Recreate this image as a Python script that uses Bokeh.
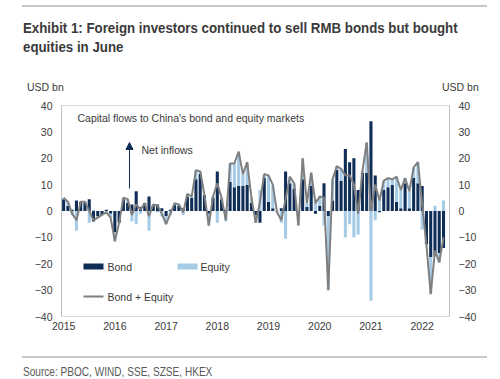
from bokeh.plotting import figure
from bokeh.layouts import column
from bokeh.models import Label, BoxAnnotation, LinearAxis, Range1d, FixedTicker, Arrow, NormalHead, Div
from bokeh.embed import file_html
from bokeh.resources import INLINE

# ---- data (USD bn, monthly Jan 2015 - Jun 2022) ----
years = ["2015", "2016", "2017", "2018", "2019", "2020", "2021", "2022"]
year_ticks = [0, 12, 24, 36, 48, 60, 72, 84]

bond = [
    4.5, 2, 0.5, 4, 3.5, 3, 4.5, -4, -2, -1.5, 0.5, -1,          # 2015
    -8, -4.5, 4.5, 3, 2.5, 7.5, 1.5, 3, 5.5, 2, 2.5, 1,          # 2016
    -2, 0.5, 2.5, 2, 1, 5.5, 5, 12, 14, 6, -1, 5,                # 2017
    15, 4.5, 0.5, 11, 9, 9.5, 9.5, 10, 3, -1.5, -4.5, 12.5,      # 2018
    3.5, 1, 0, 1, 15, 10.5, 8.5, 0, 12, 1.5, 9.5, -1,            # 2019
    2, 10.5, -2, 4, 15.5, 11.5, 23.5, 18.5, 20, 8, 14.5, 14.5,   # 2020
    34, 13.5, -0.5, 8, 9, 10, 3.5, 1, 10.5, 1, 12.5, 10.5,       # 2021
    9.5, -12.5, -17.5, -17, -16, -14,                            # 2022
]
equity = [
    0.5, 1.5, -1.5, -7.5, 0, 0.5, -4.5, 0.5, -0.5, 0, -1, -1.5,
    -3.5, 0, 0.5, 1.5, -4, -5, -1, 0, -7.5, 0.5, -0.5, -2,
    -3, -1.5, 0.5, 0.5, -1.5, 1, 0.5, 3.5, 1, 0, -4.5, 0.5,
    -4.5, 0.5, -4, 7, 9, 13, 4.5, 8.5, 2, -3, 8, 1.5,
    10, 9, -0.5, -4.5, -10.5, 2.5, 2, -5.5, 8, 1.5, 5, 4,
    3.5, -5.5, -28, 8, 1.5, 4.5, -10, -5, -10, -9, 0.5, 11.5,
    -34, -3.5, 4.5, 3.5, 3.5, 2, 9.5, 7, 2, 6.5, 4, 8,
    -7, -0.5, -14, 2, -3.5, 4,
]

months = list(range(len(bond)))
total = [b + e for b, e in zip(bond, equity)]
# Excel-style stacking: same-sign values stack, opposite signs start at zero
eq_bottom = [b if b * e > 0 else 0 for b, e in zip(bond, equity)]
eq_top = [eb + e for eb, e in zip(eq_bottom, equity)]

NAVY = "#0e2d57"
LIGHT = "#a6cbe6"
GREY = "#7f7f7f"
TXT = "#3a3a3a"
RULE = "#c8c8c8"
FONT = "Liberation Sans"
FS = "10.5px"
W = 492

# ---------- header (title, units) ----------
header_html = f"""<div style="position:relative;width:{W}px;height:95px;font-family:'Liberation Sans',Arial,sans-serif;color:{TXT};"><div style="position:absolute;left:22px;top:5px;width:465px;height:0;border-top:2px solid {RULE};"></div><div style="position:absolute;left:23px;top:18px;font-size:15.5px;line-height:19px;font-weight:bold;white-space:nowrap;transform:scaleX(0.857);transform-origin:0 0;">Exhibit 1: Foreign investors continued to sell RMB bonds but bought<br>equities in June</div><div style="position:absolute;left:27px;top:81px;font-size:{FS};line-height:12px;white-space:nowrap;">USD bn</div><div style="position:absolute;left:442px;top:81px;font-size:{FS};line-height:12px;white-space:nowrap;">USD bn</div></div>"""
header = Div(text=header_html, width=W, height=95, margin=0)

# ---------- main chart ----------
p = figure(width=W, height=250, output_backend="svg", toolbar_location=None,
           x_range=Range1d(-0.5, 90.4), y_range=Range1d(-40, 40),
           min_border_left=61, min_border_right=43, min_border_top=10, min_border_bottom=29)
p.outline_line_color = "#d9d9d9"
p.xgrid.visible = False
p.ygrid.visible = False

p.vbar(x=months, width=0.72, bottom=0, top=bond, fill_color=NAVY, line_color=None)
p.vbar(x=months, width=0.72, bottom=eq_bottom, top=eq_top, fill_color=LIGHT, line_color=None)
p.line(x=months, y=total, line_color=GREY, line_width=2)

yt = FixedTicker(ticks=[-40, -30, -20, -10, 0, 10, 20, 30, 40])
p.add_layout(LinearAxis(), "right")
for ax in p.yaxis:
    ax.ticker = yt
    ax.axis_line_color = "#bfbfbf"
    ax.major_tick_line_color = None
    ax.minor_tick_line_color = None
    ax.major_tick_out = 0
    ax.major_tick_in = 0
    ax.major_label_text_font = FONT
    ax.major_label_text_font_size = FS
    ax.major_label_text_color = TXT
    ax.major_label_standoff = 9

xa = p.xaxis[0]
xa.ticker = FixedTicker(ticks=year_ticks)
xa.major_label_overrides = {t: y for t, y in zip(year_ticks, years)}
xa.axis_line_color = "#d9d9d9"
xa.major_tick_line_color = None
xa.minor_tick_line_color = None
xa.major_tick_out = 0
xa.major_tick_in = 0
xa.major_label_text_font = FONT
xa.major_label_text_font_size = FS
xa.major_label_text_color = TXT
xa.major_label_standoff = 5

def lab(x, y, text, color=TXT):
    p.add_layout(Label(x=x, y=y, x_units="screen", y_units="screen", text=text,
                       text_font=FONT, text_font_size=FS, text_color=color,
                       text_align="left", text_baseline="middle"))

lab(16, 199, "Capital flows to China's bond and equity markets")
lab(80, 167, "Net inflows")
p.add_layout(Arrow(end=NormalHead(size=7, fill_color=NAVY, line_color=NAVY),
                   x_start=68, y_start=128, x_end=68, y_end=174,
                   start_units="screen", end_units="screen",
                   line_color=NAVY, line_width=1))

def swatch(l, r, b, t, color):
    p.add_layout(BoxAnnotation(left=l, right=r, bottom=b, top=t,
                               left_units="screen", right_units="screen",
                               top_units="screen", bottom_units="screen",
                               fill_color=color, fill_alpha=1, line_color=None))
swatch(22, 42, 47, 53, NAVY)
lab(46, 50, "Bond")
swatch(116, 136, 47, 53, LIGHT)
lab(139, 50, "Equity")
swatch(22, 42, 19, 21, GREY)
lab(46, 20, "Bond + Equity")

# ---------- footer (source) ----------
footer_html = f"""<div style="position:relative;width:{W}px;height:34px;font-family:'Liberation Sans',Arial,sans-serif;"><div style="position:absolute;left:22px;top:11px;width:465px;height:0;border-top:2px solid {RULE};"></div><div style="position:absolute;left:23px;top:20px;font-size:12px;line-height:14px;color:#595959;white-space:nowrap;transform:scaleX(0.84);transform-origin:0 0;">Source: PBOC, WIND, SSE, SZSE, HKEX</div></div>"""
footer = Div(text=footer_html, width=W, height=34, margin=0)

layout = column(header, p, footer, spacing=0)
open("out.html", "w").write(file_html(layout, INLINE))
